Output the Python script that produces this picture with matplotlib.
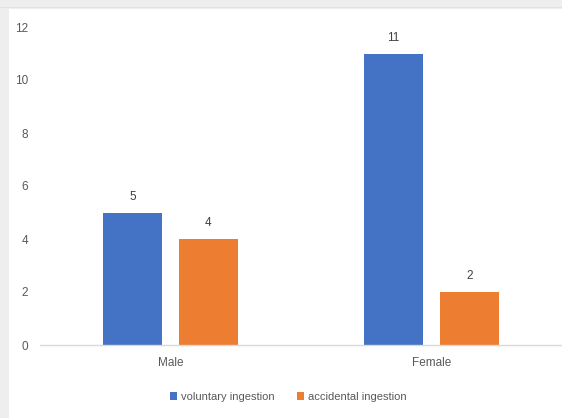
import numpy as np
import matplotlib.pyplot as plt
from matplotlib.patches import Rectangle

categories = ["Male", "Female"]
voluntary = [5, 11]
accidental = [4, 2]
series_names = ["voluntary ingestion", "accidental ingestion"]
yticks = [0, 2, 4, 6, 8, 10, 12]

blue = "#4472C4"
orange = "#ED7D31"
text_col = "#595959"

plt.rcParams["font.family"] = ["Liberation Sans", "DejaVu Sans"]

fig = plt.figure(figsize=(5.62, 4.18), dpi=100)
fig.patch.set_facecolor("#eeeeee")
# white chart panel
fig.add_artist(Rectangle((9 / 562, 0), 1, 1 - 9 / 418, transform=fig.transFigure,
                         facecolor="white", edgecolor="none", zorder=0))
fig.add_artist(Rectangle((0, 1 - 8 / 418), 1, 1.5 / 418, transform=fig.transFigure,
                         facecolor="#e2e2e2", edgecolor="none", zorder=0))

ax = fig.add_axes([40 / 562, 73 / 418, 1 - 40 / 562, (345 - 27) / 418])
ax.set_facecolor("none")

x = np.arange(len(categories))
w = 0.224
off = 0.145
b1 = ax.bar(x - off, voluntary, w, color=blue, label=series_names[0])
b2 = ax.bar(x + off, accidental, w, color=orange, label=series_names[1])

for bars, vals in ((b1, voluntary), (b2, accidental)):
    for r, v in zip(bars, vals):
        ax.annotate(str(v), (r.get_x() + r.get_width() / 2, v), xytext=(0, 7),
                    textcoords="offset points", ha="center", va="bottom",
                    fontsize=8.5, color="#404040")

ax.set_xlim(-0.5, 1.5)
ax.set_ylim(0, 12)
ax.set_yticks(yticks)
ax.set_xticks(x)
ax.set_xticklabels(categories)
ax.tick_params(axis="both", length=0, labelsize=8.5, labelcolor=text_col)
ax.tick_params(axis="y", pad=8.5)
ax.tick_params(axis="x", pad=9)
for s in ("top", "right", "left"):
    ax.spines[s].set_visible(False)
ax.spines["bottom"].set_color("#d9d9d9")
ax.spines["bottom"].set_linewidth(1.0)

fig.legend(handles=[b1, b2], labels=series_names, loc="center",
           bbox_to_anchor=(288 / 562, 1 - 397 / 418), ncol=2, frameon=False,
           fontsize=8, handlelength=0.7, handleheight=0.7, handletextpad=0.3,
           columnspacing=2.0, labelcolor=text_col)

fig.savefig("out.png", dpi=100, facecolor=fig.get_facecolor())
